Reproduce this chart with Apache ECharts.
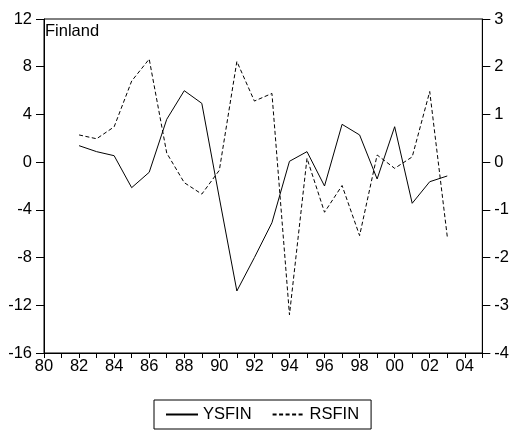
<!DOCTYPE html>
<html>
<head>
<meta charset="utf-8">
<script src="https://cdn.jsdelivr.net/npm/echarts@6/dist/echarts.min.js"></script>
<style>html,body{margin:0;padding:0;background:#fff}#c{width:512px;height:432px}</style>
</head>
<body>
<div id="c"></div>
<script>
const years = [1982,1983,1984,1985,1986,1987,1988,1989,1990,1991,1992,1993,1994,1995,1996,1997,1998,1999,2000,2001,2002,2003];
const ysfin = [1.38,0.88,0.54,-2.14,-0.85,3.59,5.99,4.93,-3.0,-10.8,-8.0,-5.08,0.07,0.88,-2.0,3.17,2.28,-1.41,2.97,-3.45,-1.64,-1.16];
const rsfin = [0.57,0.49,0.74,1.70,2.16,0.19,-0.43,-0.67,-0.17,2.11,1.28,1.44,-3.2,0.08,-1.05,-0.49,-1.54,0.15,-0.13,0.11,1.48,-1.56];
const leftTicks = {min:-16, max:12, interval:4};
const rightTicks = {min:-4, max:3, interval:1};
const xRange = {min:1980, max:2005, interval:1};

const font = 'Liberation Sans, Arial, sans-serif';
const fs = 16.5;
const chart = echarts.init(document.getElementById('c'), null, {renderer:'canvas'});
const yCommon = {
  axisLine:{show:true, onZero:false, lineStyle:{color:'#000', width:1}},
  axisTick:{show:true, inside:false, length:8, lineStyle:{color:'#000'}},
  splitLine:{show:false},
  axisLabel:{color:'#000', fontSize:fs, fontFamily:font, margin:12}
};
chart.setOption({
  animation:false,
  backgroundColor:'#fff',
  title:{text:'Finland', left:40, top:18, textStyle:{fontSize:fs, fontWeight:'normal', color:'#000', fontFamily:font}},
  legend:{
    left:154, top:400,
    data:['YSFIN','RSFIN'],
    borderColor:'#000', borderWidth:1, padding:[6,12,6,11],
    itemWidth:32, itemHeight:14, itemGap:20,
    itemStyle:{color:'rgba(0,0,0,0)', borderWidth:0, borderColor:'rgba(0,0,0,0)', opacity:0},
    textStyle:{fontSize:fs, color:'#000', fontFamily:font}
  },
  grid:{left:44, right:26, top:19, bottom:79, show:true, borderColor:'#000', borderWidth:1, containLabel:false},
  xAxis:{
    type:'value', min:xRange.min, max:xRange.max, interval:xRange.interval,
    axisLine:{show:true, onZero:false, lineStyle:{color:'#000', width:1}},
    splitLine:{show:false},
    axisTick:{show:true, length:5, lineStyle:{color:'#000'}},
    axisLabel:{color:'#000', fontSize:fs, fontFamily:font, margin:5,
      formatter:v=> (v%2===0 ? String(v%100).padStart(2,'0') : '')}
  },
  yAxis:[
    {type:'value', position:'left', ...leftTicks, ...yCommon},
    {type:'value', position:'right', ...rightTicks, ...yCommon}
  ],
  series:[
    {name:'YSFIN', type:'line', yAxisIndex:0, showSymbol:false, symbol:'none',
      data:years.map((y,i)=>[y,ysfin[i]]), lineStyle:{color:'#000', width:1, type:'solid'}, itemStyle:{color:'#000'}},
    {name:'RSFIN', type:'line', yAxisIndex:1, showSymbol:false, symbol:'none',
      data:years.map((y,i)=>[y,rsfin[i]]), lineStyle:{color:'#000', width:1, type:[4,2.5]}, itemStyle:{color:'#000'}}
  ]
});
</script>
</body>
</html>
